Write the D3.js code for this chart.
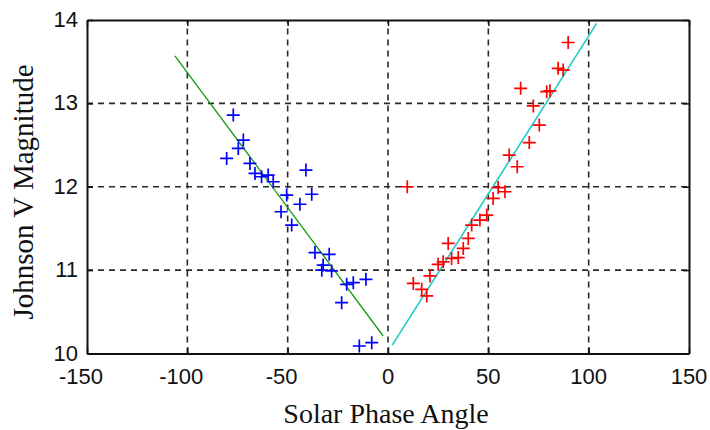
<!DOCTYPE html>
<html>
<head>
<meta charset="utf-8">
<script src="https://cdn.jsdelivr.net/npm/d3@7"></script>
<style>
  html, body { margin: 0; padding: 0; background: #fff; }
  svg { display: block; }
</style>
</head>
<body>
<svg id="chart" width="710" height="430"></svg>
<script>
// Observations before opposition (negative phase angle)
const blueAngle = [-77.1, -72.1, -74.6, -80.4, -68.8, -66.3, -63.0, -59.7, -57.2, -40.9,
                   -50.5, -38.0, -43.9, -53.3, -48.0, -36.4, -29.3, -32.3, -28.1, -20.6,
                   -17.3, -11.0, -23.1, -14.3, -8.1, -33.0];
const blueMag   = [12.86, 12.56, 12.46, 12.34, 12.28, 12.16, 12.12, 12.14, 12.06, 12.20,
                   11.90, 11.91, 11.79, 11.70, 11.54, 11.21, 11.19, 11.06, 10.99, 10.83,
                   10.85, 10.89, 10.61, 10.09, 10.13, 11.00];

// Observations after opposition (positive phase angle)
const redAngle = [9.6, 12.6, 16.8, 19.3, 20.9, 25.0, 27.5, 30.0, 31.7, 35.0,
                  37.5, 40.0, 41.7, 45.8, 49.2, 52.4, 54.9, 58.3, 89.8, 84.8,
                  87.3, 66.1, 79.1, 80.7, 72.4, 75.4, 70.4, 60.4, 64.4];
const redMag   = [12.00, 10.84, 10.77, 10.69, 10.93, 11.07, 11.10, 11.32, 11.14, 11.15,
                  11.26, 11.38, 11.54, 11.60, 11.66, 11.86, 11.99, 11.94, 13.73, 13.42,
                  13.40, 13.18, 13.14, 13.15, 12.97, 12.74, 12.53, 12.38, 12.24];

// Linear fits: endpoints [angle, magnitude]
const fitNeg = [[-106.2, 13.57], [-2.4, 10.21]];
const fitPos = [[2.1, 10.10], [104.0, 13.96]];

const xTicks = [-150, -100, -50, 0, 50, 100, 150];
const yTicks = [10, 11, 12, 13, 14];

const svg = d3.select("#chart");
const plotL = 87, plotT = 20, plotR = 689, plotB = 353.5;

const x = d3.scaleLinear().domain([-150, 150]).range([plotL, plotR]);
const y = d3.scaleLinear().domain([10, 14]).range([plotB, plotT]);

// Dashed grid
const grid = svg.append("g").attr("stroke", "#2a2a2a").attr("stroke-width", 1.6)
  .attr("stroke-dasharray", "6,5");
grid.selectAll("line.gx").data(xTicks.slice(1, -1)).join("line")
  .attr("x1", d => x(d)).attr("x2", d => x(d))
  .attr("y1", plotB).attr("y2", plotT);
grid.selectAll("line.gy").data(yTicks.slice(1, -1)).join("line")
  .attr("x1", plotL).attr("x2", plotR)
  .attr("y1", d => y(d)).attr("y2", d => y(d));

// Fit lines
const line = d3.line().x(d => x(d[0])).y(d => y(d[1]));
svg.append("path").datum(fitNeg).attr("d", line)
  .attr("fill", "none").attr("stroke", "#119911").attr("stroke-width", 1.3);
svg.append("path").datum(fitPos).attr("d", line)
  .attr("fill", "none").attr("stroke", "#22c8c8").attr("stroke-width", 1.6);

// Plus markers
function plus(g, xs, ys, color) {
  const s = 6.5;
  g.selectAll("path").data(xs.map((v, i) => [v, ys[i]])).join("path")
    .attr("d", d => {
      const cx = x(d[0]), cy = y(d[1]);
      return `M${cx - s},${cy}H${cx + s}M${cx},${cy - s}V${cy + s}`;
    })
    .attr("stroke", color).attr("stroke-width", 1.7).attr("fill", "none");
}
plus(svg.append("g"), blueAngle, blueMag, "#0000ff");
plus(svg.append("g"), redAngle, redMag, "#ff0000");

// Axes frame with inward ticks on all four sides
const axG = svg.append("g");
axG.append("g").attr("transform", `translate(0,${plotB})`)
  .call(d3.axisBottom(x).tickValues(xTicks).tickSizeInner(-6).tickSizeOuter(0).tickFormat(""));
axG.append("g").attr("transform", `translate(0,${plotT})`)
  .call(d3.axisTop(x).tickValues(xTicks).tickSizeInner(-6).tickSizeOuter(0).tickFormat(""));
axG.append("g").attr("transform", `translate(${plotL},0)`)
  .call(d3.axisLeft(y).tickValues(yTicks).tickSizeInner(-6).tickSizeOuter(0).tickFormat(""));
axG.append("g").attr("transform", `translate(${plotR},0)`)
  .call(d3.axisRight(y).tickValues(yTicks).tickSizeInner(-6).tickSizeOuter(0).tickFormat(""));
axG.selectAll(".domain").attr("stroke", "#111").attr("stroke-width", 2);
axG.selectAll(".tick line").attr("stroke", "#111").attr("stroke-width", 1.5);

// Tick labels
const lab = svg.append("g").attr("font-family", "'Liberation Sans', Arial, sans-serif")
  .attr("font-size", 22).attr("fill", "#111");
lab.selectAll("text.xl").data(xTicks).join("text")
  .attr("x", d => x(d) + (d < 0 ? -6 : 0)).attr("y", 384)
  .attr("text-anchor", "middle").text(d => d);
lab.selectAll("text.yl").data(yTicks).join("text")
  .attr("x", 78).attr("y", d => y(d) + 7)
  .attr("text-anchor", "end").text(d => d);

// Axis titles
svg.append("text").attr("x", 386).attr("y", 423)
  .attr("text-anchor", "middle")
  .attr("font-family", "'Liberation Serif', 'Times New Roman', serif")
  .attr("font-size", 28).attr("fill", "#111")
  .text("Solar Phase Angle");
svg.append("text")
  .attr("transform", "translate(33,192) rotate(-90)")
  .attr("text-anchor", "middle")
  .attr("font-family", "'Liberation Serif', 'Times New Roman', serif")
  .attr("font-size", 29).attr("fill", "#111")
  .text("Johnson V Magnitude");
</script>
</body>
</html>
